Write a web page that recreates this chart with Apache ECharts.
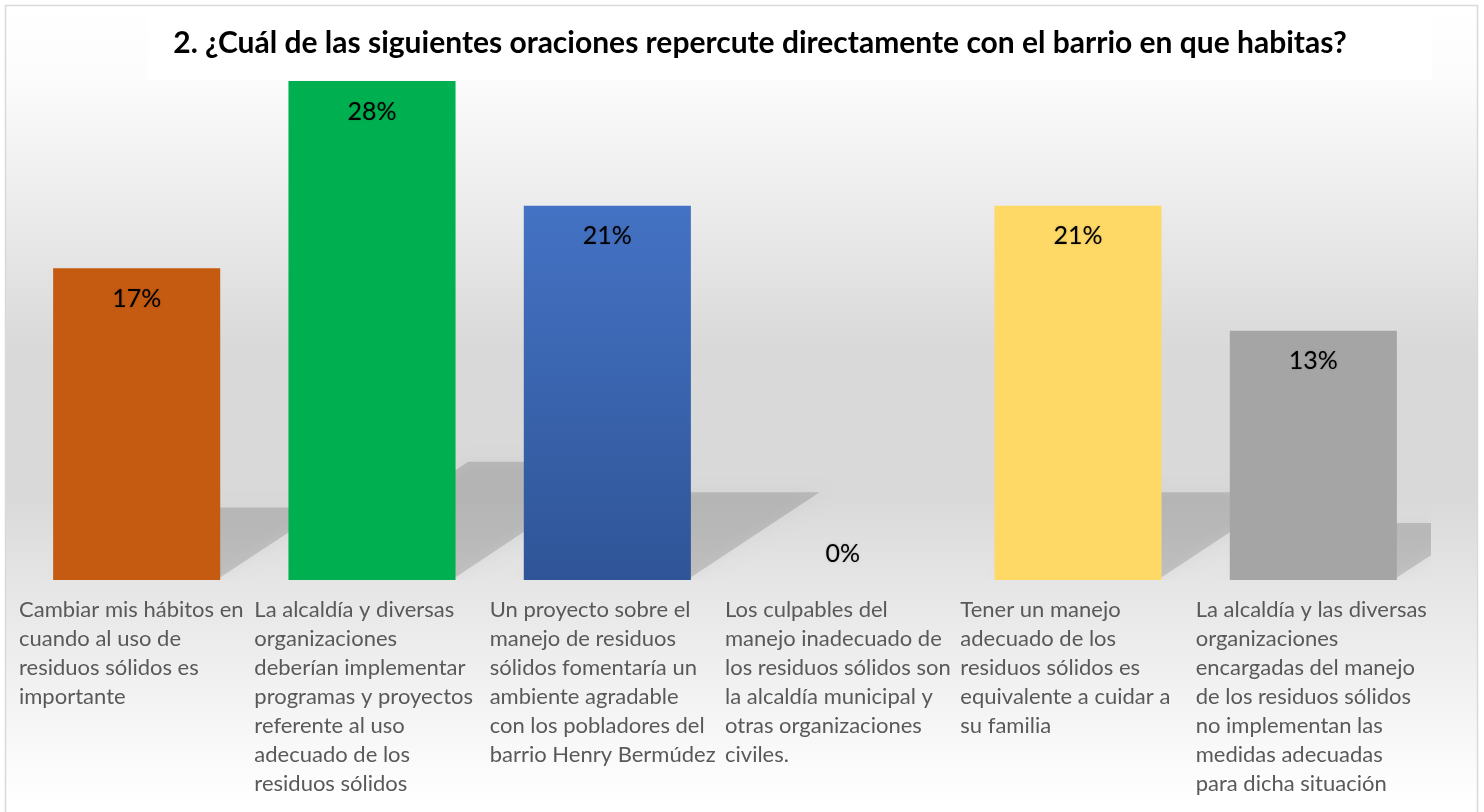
<!DOCTYPE html>
<html>
<head>
<meta charset="utf-8">
<script src="https://cdn.jsdelivr.net/npm/echarts@6/dist/echarts.min.js"></script>
<style>
  html, body { margin: 0; padding: 0; background: #fff; }
  #main { width: 1484px; height: 812px; }
</style>
</head>
<body>
<div id="main"></div>
<script>
var titleText = '2. ¿Cuál de las siguientes oraciones repercute directamente con el barrio en que habitas?';

// categories (line breaks as in the original chart)
var categories = [
  'Cambiar mis hábitos en\ncuando al uso de\nresiduos sólidos es\nimportante',
  'La alcaldía y diversas\norganizaciones\ndeberían implementar\nprogramas y proyectos\nreferente al uso\nadecuado de los\nresiduos sólidos',
  'Un proyecto sobre el\nmanejo de residuos\nsólidos fomentaría un\nambiente agradable\ncon los pobladores del\nbarrio Henry Bermúdez',
  'Los culpables del\nmanejo inadecuado de\nlos residuos sólidos son\nla alcaldía municipal y\notras organizaciones\nciviles.',
  'Tener un manejo\nadecuado de los\nresiduos sólidos es\nequivalente a cuidar a\nsu familia',
  'La alcaldía y las diversas\norganizaciones\nencargadas del manejo\nde los residuos sólidos\nno implementan las\nmedidas adecuadas\npara dicha situación'
];

// percentages (bar heights) and the labels shown on them
var values = [17.24, 27.59, 20.69, 0, 20.69, 13.79];
var valueLabels = ['17%', '28%', '21%', '0%', '21%', '13%'];

var barColors = [
  '#C55A11',
  '#00B050',
  { type: 'linear', x: 0, y: 0, x2: 0, y2: 1, colorStops: [{ offset: 0, color: '#4472C4' }, { offset: 1, color: '#2F5597' }] },
  '#4472C4',
  '#FFD966',
  '#A5A5A5'
];

var chart = echarts.init(document.getElementById('main'));

var barData = values.map(function (v, i) {
  return {
    value: v,
    itemStyle: { color: barColors[i] },
    label: v === 0 ? { position: 'top', distance: 14 } : {}
  };
});

var shadowData = values.map(function (v, i) { return [i, v]; });

var option = {
  animation: false,
  backgroundColor: '#ffffff',
  graphic: [
    {
      type: 'rect', z: -10, silent: true,
      shape: { x: 5.5, y: 5.5, width: 1472, height: 820 },
      style: {
        stroke: '#D9D9D9', lineWidth: 1.5,
        fill: {
          type: 'linear', x: 0, y: 0, x2: 0, y2: 1, global: false,
          colorStops: [
            { offset: 0, color: '#FFFFFF' },
            { offset: 0.09, color: '#FCFCFC' },
            { offset: 0.42, color: '#D9D9D9' },
            { offset: 0.6, color: '#D9D9D9' },
            { offset: 0.7, color: '#E5E5E5' },
            { offset: 0.97, color: '#FFFFFF' },
            { offset: 1, color: '#FFFFFF' }
          ]
        }
      }
    },
    {
      type: 'rect', z: 5, silent: true,
      shape: { x: 148, y: 7, width: 1284, height: 73 },
      style: { fill: '#FFFFFF' }
    },
    {
      type: 'text', z: 6, silent: true,
      x: 760, y: 43,
      style: {
        text: titleText,
        font: 'bold 30px Lato',
        fill: '#000000',
        align: 'center',
        verticalAlign: 'middle'
      }
    }
  ],
  grid: { left: 19, right: 53, top: 37.5, bottom: 232, containLabel: false },
  xAxis: [
    {
      type: 'category',
      data: categories,
      axisLine: { show: false },
      axisTick: { show: false },
      axisLabel: { show: false }
    },
    {
      type: 'category',
      position: 'bottom',
      boundaryGap: false,
      data: categories.concat(['']),
      axisLine: { show: false },
      axisTick: { show: false },
      axisLabel: {
        interval: 0,
        align: 'left',
        margin: 15,
        fontFamily: 'Lato',
        fontSize: 22,
        lineHeight: 29,
        color: '#595959',
        hideOverlap: false
      }
    }
  ],
  yAxis: {
    type: 'value',
    min: 0,
    max: 30,
    show: false,
    splitLine: { show: false }
  },
  series: [
    {
      // perspective shadows behind the bars
      type: 'custom',
      xAxisIndex: 0,
      z: 1,
      clip: true,
      encode: { x: 0, y: 1 },
      data: shadowData,
      renderItem: function (params, api) {
        var idx = api.value(0);
        var v = api.value(1);
        var base = api.coord([idx, 0]);
        var top = api.coord([idx, v]);
        var band = api.size([1, 0])[0];
        var w = band * 0.71;
        var h = base[1] - top[1];
        if (h <= 0) return null;
        var hs = h * 0.245;
        var dx = hs * 1.47;
        var L = base[0] - w / 2, R = base[0] + w / 2, y0 = base[1];
        return {
          type: 'polygon',
          shape: { points: [[L + 4, y0], [R - 4, y0], [R + dx - 6, y0 - hs + 4], [L + dx, y0 - hs + 4]] },
          style: {
            fill: 'rgba(0,0,0,0.14)',
            shadowBlur: 14,
            shadowColor: 'rgba(0,0,0,0.22)'
          }
        };
      }
    },
    {
      type: 'bar',
      xAxisIndex: 0,
      z: 2,
      barWidth: '71%',
      data: barData,
      label: {
        show: true,
        position: 'insideTop',
        distance: 18,
        fontFamily: 'Lato',
        fontSize: 25,
        color: '#000000',
        textShadowColor: 'rgba(0,0,0,0.25)',
        textShadowBlur: 2,
        formatter: function (p) { return valueLabels[p.dataIndex]; }
      }
    }
  ]
};

chart.setOption(option);
</script>
</body>
</html>
